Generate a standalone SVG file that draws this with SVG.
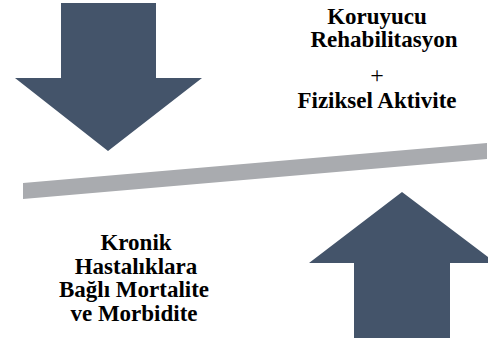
<svg xmlns="http://www.w3.org/2000/svg" width="488" height="346" viewBox="0 0 488 346">
<style>
.arrow{fill:#44546a}
.bar{fill:#a9abaf}
.t{font-family:"Liberation Serif","Times New Roman",serif;font-weight:bold;font-size:23px;fill:#000;text-anchor:middle}
.p{font-family:"Liberation Serif","Times New Roman",serif;font-size:24px;fill:#000;text-anchor:middle}
</style>
<rect width="488" height="346" fill="#ffffff"/>
<g id="down-arrow">
<polygon class="arrow" points="61,3 156,3 156,78 202,78 108,151 15,78 61,78"/>
</g>
<g id="up-arrow">
<polygon class="arrow" points="402,192 496,263 450,263 450,338 354,338 354,263 309,263"/>
</g>
<g id="connectors">
<polygon class="bar" points="23,183 487,143 487,159 23,199"/>
</g>
<g id="top-label">
<text class="t" x="377" y="24">Koruyucu</text>
<text class="t" x="384" y="47">Rehabilitasyon</text>
<text class="p" x="377" y="83">+</text>
<text class="t" x="377" y="108">Fiziksel Aktivite</text>
</g>
<g id="bottom-label">
<text class="t" x="136" y="250">Kronik</text>
<text class="t" x="136" y="274">Hastalıklara</text>
<text class="t" x="134" y="297">Bağlı Mortalite</text>
<text class="t" x="134" y="321">ve Morbidite</text>
</g>
</svg>
